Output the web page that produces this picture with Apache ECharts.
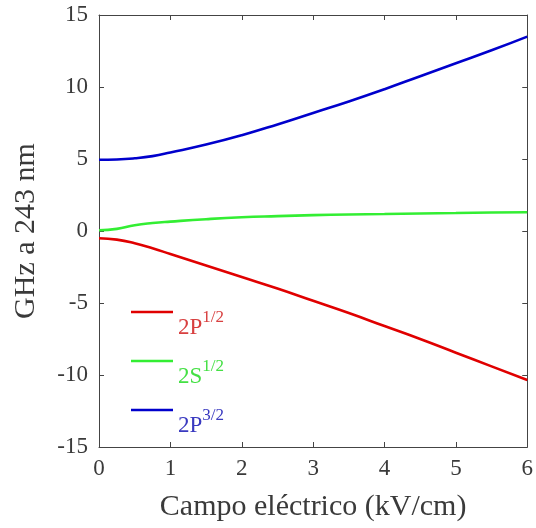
<!DOCTYPE html>
<html>
<head>
<meta charset="utf-8">
<script src="https://cdn.jsdelivr.net/npm/echarts@6/dist/echarts.min.js"></script>
<style>
  html, body { margin: 0; padding: 0; background: #fff; }
  #chart { width: 536px; height: 528px; }
</style>
</head>
<body>
<div id="chart"></div>
<script>
    // campo eléctrico (kV/cm)
    let campo = [0, 0.25, 0.5, 0.75, 1, 1.5, 2, 2.5, 3, 3.5, 4, 4.5, 5, 5.5, 6]
    let p12 = [-0.5, -0.6, -0.85, -1.2, -1.6, -2.4, -3.2, -4.0, -4.85, -5.7, -6.6, -7.5, -8.45, -9.4, -10.35]
    let s12 = [0.05, 0.15, 0.4, 0.55, 0.65, 0.82, 0.95, 1.03, 1.1, 1.15, 1.18, 1.22, 1.25, 1.28, 1.3]
    let p32 = [4.95, 4.97, 5.05, 5.2, 5.45, 6.0, 6.65, 7.4, 8.2, 9.0, 9.85, 10.75, 11.65, 12.55, 13.5]
    let nombres = ['2P|1/2', '2S|1/2', '2P|3/2']
    let colores = ['#e00000', '#33ee33', '#0000cc']
    let coloresTexto = ['#d84040', '#44e044', '#3a3ac0']

    let font = 'Liberation Serif'
    let axisCol = '#444'

    function pares(ys) {
        let out = []
        for (let i = 0; i < campo.length; i++) {
            out.push([campo[i], ys[i]])
        }
        return out
    }

    let chart = echarts.init(document.getElementById('chart'))

    let baseX = {
        type: 'value', min: 0, max: 6, interval: 1,
        axisLine: { show: true, onZero: false, lineStyle: { color: axisCol, width: 1 } },
        axisTick: { show: true, inside: true, length: 5, lineStyle: { color: axisCol } },
        splitLine: { show: false }
    }
    let baseY = {
        type: 'value', min: -15, max: 15, interval: 5,
        axisLine: { show: true, onZero: false, lineStyle: { color: axisCol, width: 1 } },
        axisTick: { show: true, inside: true, length: 5, lineStyle: { color: axisCol } },
        splitLine: { show: false }
    }

    let serie = function (name, data, color) {
        return {
            name: name, type: 'line', data: pares(data),
            smooth: true, symbol: 'none',
            lineStyle: { color: color, width: 2.6 },
            itemStyle: { color: color }
        }
    }

    let leyenda = function (i, top) {
        return {
            orient: 'vertical', left: 131, top: top, padding: 0,
            icon: 'rect', itemWidth: 42, itemHeight: 2.6,
            data: [{ name: nombres[i], itemStyle: { color: colores[i] } }],
            formatter: function (n) {
                let p = n.split('|')
                return '{b|' + p[0] + '}{s|' + p[1] + '}'
            },
            textStyle: {
                color: coloresTexto[i],
                padding: [18, 0, 0, 0],
                rich: {
                    b: { fontFamily: font, fontSize: 23, lineHeight: 23, padding: [13, 0, 0, 0], color: coloresTexto[i] },
                    s: { fontFamily: font, fontSize: 17, lineHeight: 17, verticalAlign: 'top', color: coloresTexto[i] }
                }
            }
        }
    }

    const option = {
        animation: false,
        grid: { left: 99, right: 5, top: 15, bottom: 81 },
        legend: [leyenda(0, 303), leyenda(1, 352), leyenda(2, 401)],
        xAxis: [
            Object.assign({}, baseX, {
                position: 'bottom',
                name: 'Campo eléctrico (kV/cm)', nameLocation: 'middle', nameGap: 45,
                nameTextStyle: { fontFamily: font, fontSize: 30, color: '#3a3a3a' },
                axisLabel: { fontFamily: font, fontSize: 23, color: '#3a3a3a', margin: 10 }
            }),
            Object.assign({}, baseX, { position: 'top', axisLabel: { show: false } })
        ],
        yAxis: [
            Object.assign({}, baseY, {
                position: 'left',
                name: 'GHz a 243 nm', nameLocation: 'middle', nameGap: 58,
                nameTextStyle: { fontFamily: font, fontSize: 30, color: '#3a3a3a' },
                axisLabel: { fontFamily: font, fontSize: 23, color: '#3a3a3a', margin: 11 }
            }),
            Object.assign({}, baseY, { position: 'right', axisLabel: { show: false } })
        ],
        series: [
            serie(nombres[0], p12, colores[0]),
            serie(nombres[1], s12, colores[1]),
            serie(nombres[2], p32, colores[2])
        ]
    }
    chart.setOption(option)
</script>
</body>
</html>
